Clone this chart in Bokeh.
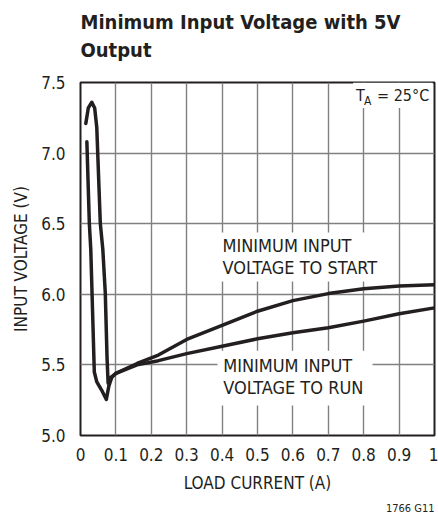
from bokeh.plotting import figure
from bokeh.models import Range1d, Title, FixedTicker
from bokeh.core.properties import value
from bokeh.embed import file_html
from bokeh.resources import INLINE

# ---- data ----
start_x = [0.015, 0.022, 0.032, 0.040, 0.046, 0.056, 0.063, 0.070, 0.075, 0.078, 0.085, 0.10,
           0.16, 0.22, 0.30, 0.40, 0.50, 0.60, 0.70, 0.80, 0.90, 1.00]
start_y = [7.21, 7.32, 7.36, 7.32, 7.18, 6.50, 6.32, 6.01, 5.55, 5.37, 5.41, 5.44,
           5.51, 5.57, 5.68, 5.78, 5.88, 5.955, 6.005, 6.04, 6.058, 6.067]

run_x = [0.018, 0.025, 0.029, 0.035, 0.039, 0.046, 0.060, 0.073, 0.080, 0.088, 0.10,
         0.16, 0.22, 0.30, 0.40, 0.50, 0.60, 0.70, 0.80, 0.90, 1.00]
run_y = [7.08, 6.50, 6.32, 5.80, 5.45, 5.38, 5.32, 5.255, 5.35, 5.41, 5.44,
         5.50, 5.53, 5.58, 5.632, 5.685, 5.727, 5.763, 5.81, 5.862, 5.904]

x_ticks = [0, 0.1, 0.2, 0.3, 0.4, 0.5, 0.6, 0.7, 0.8, 0.9, 1]
x_tick_labels = ["0", "0.1", "0.2", "0.3", "0.4", "0.5", "0.6", "0.7", "0.8", "0.9", "1"]
y_ticks = [5.0, 5.5, 6.0, 6.5, 7.0, 7.5]
y_tick_labels = ["5.0", "5.5", "6.0", "6.5", "7.0", "7.5"]

title_lines = ["Minimum Input Voltage with 5V", "Output"]
x_label = "LOAD CURRENT (A)"
y_label = "INPUT VOLTAGE (V)"
start_label = ["MINIMUM INPUT", "VOLTAGE TO START"]
run_label = ["MINIMUM INPUT", "VOLTAGE TO RUN"]
temp_parts = ["T", "A", "= 25°C"]
note = "1766 G11"

FONT = "DejaVu Sans Condensed"
INK = "#231f20"
GRID = "#808080"

p = figure(width=438, height=519, x_range=Range1d(0, 1), y_range=Range1d(5, 7.5),
           output_backend="svg", toolbar_location=None, title=None,
           min_border_left=80, min_border_right=4, min_border_top=82, min_border_bottom=82)
p.background_fill_color = "white"
p.border_fill_color = "white"
p.outline_line_color = INK
p.outline_line_width = 2

# spacer between frame and title (added first = nearest the frame)
spacer = Title(text=" ", align="left", text_font=FONT, text_font_size="11px",
               text_color="white", standoff=0, offset=0)
p.add_layout(spacer, "above")
# two-line title
t1 = Title(text="\n".join(title_lines), align="left", text_font=FONT, text_font_size="20px",
           text_font_style="bold", text_color=INK, standoff=10, offset=0, text_line_height=1.2)
p.add_layout(t1, "above")

# axes
for ax in (p.xaxis[0], p.yaxis[0]):
    ax.axis_line_color = None
    ax.major_tick_line_color = None
    ax.minor_tick_line_color = None
    ax.major_label_text_font = FONT
    ax.major_label_text_font_size = "17px"
    ax.major_label_text_color = INK
    ax.axis_label_text_font = FONT
    ax.axis_label_text_font_size = "17px"
    ax.axis_label_text_font_style = "normal"
    ax.axis_label_text_color = INK

p.xaxis.ticker = FixedTicker(ticks=x_ticks)
p.xaxis.major_label_overrides = dict(zip(x_ticks, x_tick_labels))
p.yaxis.ticker = FixedTicker(ticks=y_ticks)
p.yaxis.major_label_overrides = dict(zip(y_ticks, y_tick_labels))
p.xaxis.axis_label = x_label
p.yaxis.axis_label = y_label
p.xaxis.major_label_standoff = 6
p.xaxis.axis_label_standoff = 9
p.yaxis.major_label_standoff = 9
p.yaxis.axis_label_standoff = 7

p.xgrid.ticker = FixedTicker(ticks=x_ticks)
p.ygrid.ticker = FixedTicker(ticks=y_ticks)
for g in (p.xgrid[0], p.ygrid[0]):
    g.grid_line_color = GRID
    g.grid_line_width = 1.4

# white boxes behind the annotation texts
p.quad(left=[0.387, 0.387, 0.77], right=[0.845, 0.825, 0.995],
       bottom=[6.09, 5.213, 7.32], top=[6.437, 5.60, 7.5],
       fill_color="white", line_color=None)

# curves
p.line(start_x, start_y, line_color=INK, line_width=3.5, line_join="round", line_cap="round")
p.line(run_x, run_y, line_color=INK, line_width=3.5, line_join="round", line_cap="round")

# annotation texts
p.text(x=[0.401, 0.401], y=[6.345, 6.19], text=start_label, text_font=value(FONT),
       text_font_size="18px", text_color=INK, text_baseline="middle", text_align="left")
p.text(x=[0.403, 0.403], y=[5.495, 5.343], text=run_label, text_font=value(FONT),
       text_font_size="18px", text_color=INK, text_baseline="middle", text_align="left")

p.text(x=[0.778], y=[7.405], text=[temp_parts[0]], text_font=value(FONT),
       text_font_size="16px", text_color=INK, text_baseline="middle", text_align="left")
p.text(x=[0.801], y=[7.37], text=[temp_parts[1]], text_font=value(FONT),
       text_font_size="12px", text_color=INK, text_baseline="middle", text_align="left")
p.text(x=[0.985], y=[7.405], text=[temp_parts[2]], text_font=value(FONT),
       text_font_size="16px", text_color=INK, text_baseline="middle", text_align="right")

# figure note
tn = Title(text=note, align="right", text_font=FONT, text_font_size="11px",
           text_font_style="normal", text_color=INK, standoff=9, offset=0)
p.add_layout(tn, "below")

open("out.html", "w").write(file_html(p, INLINE))
